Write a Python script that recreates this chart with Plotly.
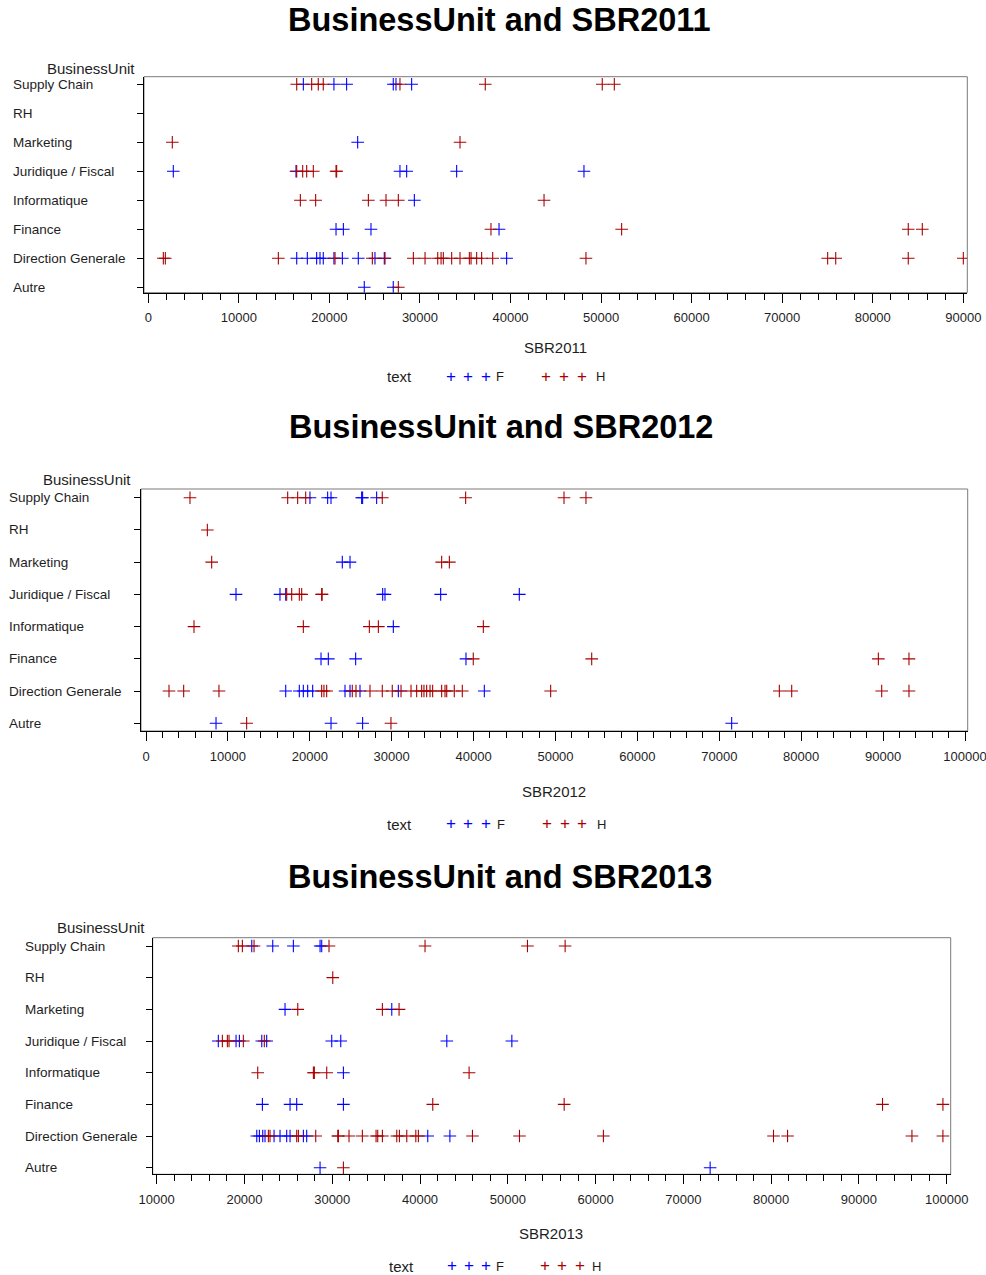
import plotly.graph_objects as go

# Business units, bottom to top on the y axis
UNITS = ["Autre", "Direction Generale", "Finance", "Informatique",
         "Juridique / Fiscal", "Marketing", "RH", "Supply Chain"]

# SBR2011 salaries by unit, F and H
F_2011 = {
    "Supply Chain": [17120, 20500, 21900, 27050, 27350, 29080],
    "RH": [],
    "Marketing": [23120],
    "Juridique / Fiscal": [2760, 16310, 27790, 28530, 34050, 48110],
    "Informatique": [29380],
    "Finance": [20730, 21540, 24590, 38730],
    "Direction Generale": [16390, 17560, 18590, 18960, 19320, 20500, 21430,
                           23190, 25030, 26060, 39570],
    "Autre": [23850, 27050],
}
H_2011 = {
    "Supply Chain": [16390, 18040, 18770, 19320, 27790, 37210, 50130, 51460],
    "RH": [],
    "Marketing": [2650, 34420],
    "Juridique / Fiscal": [16390, 17050, 17490, 18220, 20730, 20800],
    "Informatique": [16790, 18480, 24300, 26250, 27610, 43700],
    "Finance": [37840, 52270, 83920, 85470],
    "Direction Generale": [1660, 1880, 14360, 20620, 24740, 26140, 29270,
                           30560, 31960, 32330, 32580, 33500, 34420, 35450,
                           35640, 36260, 36810, 38030, 48330, 75020, 75910,
                           83920, 90000],
    "Autre": [27610],
}

# SBR2012 salaries by unit, F and H
F_2012 = {
    "Supply Chain": [20020, 22180, 22590, 26330, 26450, 28160],
    "RH": [],
    "Marketing": [23970, 24910],
    "Juridique / Fiscal": [10990, 16360, 17060, 28900, 29180, 35980, 45580],
    "Informatique": [30200],
    "Finance": [21370, 22260, 25600, 39070],
    "Direction Generale": [17060, 18720, 19210, 19740, 20350, 24300, 24910,
                           26130, 30810, 41310],
    "Autre": [8550, 22590, 26450, 71510],
}
H_2012 = {
    "Supply Chain": [5370, 17300, 18520, 19500, 28850, 39030, 51040, 53720],
    "RH": [7490],
    "Marketing": [8020, 36100, 37040],
    "Juridique / Fiscal": [17180, 17790, 18720, 19010, 21450, 21500],
    "Informatique": [5860, 19210, 27270, 28370, 41190],
    "Finance": [39960, 54420, 89420, 93160],
    "Direction Generale": [2810, 4600, 8910, 21450, 21730, 22060, 25190,
                           25640, 27350, 28850, 30070, 31140, 32360, 33050,
                           33660, 33940, 34270, 34680, 35000, 36100, 36510,
                           36720, 37640, 38620, 49410, 77330, 78840, 89830,
                           93160],
    "Autre": [12290, 29910],
}

# SBR2013 salaries by unit, F and H
F_2013 = {
    "Supply Chain": [20830, 23220, 25570, 28610, 28800],
    "RH": [],
    "Marketing": [24620, 36780],
    "Juridique / Fiscal": [17020, 19040, 19420, 21970, 22530, 29940, 30970,
                           43050, 50460],
    "Informatique": [31270],
    "Finance": [22040, 25190, 25950, 31270],
    "Direction Generale": [21400, 21700, 22080, 22340, 23370, 24050, 24810,
                           25190, 26710, 27090, 40880, 43400],
    "Autre": [28610, 73050],
}
H_2013 = {
    "Supply Chain": [19300, 19760, 21090, 29630, 40570, 52240, 56530],
    "RH": [30060],
    "Marketing": [26070, 35710, 37610],
    "Juridique / Fiscal": [17480, 18050, 18240, 19870, 22260],
    "Informatique": [21510, 27850, 27960, 29370, 45590],
    "Finance": [41450, 56420, 92690, 99570],
    "Direction Generale": [22720, 22910, 25950, 26140, 28120, 30630, 30700,
                           31910, 33430, 34990, 35180, 35710, 37350, 37650,
                           38490, 39520, 39810, 45970, 51330, 60890, 80270,
                           81870, 96040, 99570],
    "Autre": [31270],
}

W, H = 986, 1275
BLUE = "#0000FF"
RED = "#A80000"
TXT = "#1e1e1e"
FONT = "Liberation Sans, Arial, sans-serif"


def fx(p):
    return p / W


def fy(p):
    return 1 - p / H


# Page layout of each panel (pixel positions)
panels = [
    dict(year="2011", f=F_2011, h=H_2011, box=(144, 967.3, 76.7, 292.7),
         xr=[-475, 90440], yr=[-0.186, 7.262], title=(499, 20),
         bu=(90.5, 68), lab_x=11, xt=(555, 347),
         leg=(377, 399, [451, 468, 486], 500, [546, 564, 582], 600)),
    dict(year="2012", f=F_2012, h=H_2012, box=(141, 967.7, 489, 731),
         xr=[-610, 100330], yr=[-0.239, 7.27], title=(500.5, 427),
         bu=(87, 479), lab_x=7, xt=(554, 791),
         leg=(824, 399, [451, 468, 486], 501, [547, 565, 582], 601)),
    dict(year="2013", f=F_2013, h=H_2013, box=(152.7, 950.7, 937.7, 1174.3),
         xr=[9544, 100456], yr=[-0.208, 7.262], title=(499.5, 877),
         bu=(101, 928), lab_x=23, xt=(551, 1233),
         leg=(1266, 401, [452, 469, 486], 500, [545, 562, 580], 596)),
]

fig = go.Figure()
annotations = []
shapes = []

for i, p in enumerate(panels):
    n = "" if i == 0 else str(i + 1)
    xa, ya = "x" + n, "y" + n
    for data, color, name in ((p["f"], BLUE, "F"), (p["h"], RED, "H")):
        xs, ys = [], []
        for unit in UNITS:
            for v in data[unit]:
                xs.append(v)
                ys.append(unit)
        fig.add_trace(go.Scatter(
            x=xs, y=ys, mode="markers", name=name, showlegend=False,
            xaxis=xa, yaxis=ya,
            marker=dict(symbol="cross-thin-open", size=9, color=color,
                        line=dict(width=1.1, color=color)),
        ))

    x0, x1, y0, y1 = p["box"]
    fig.update_layout(**{
        "xaxis" + n: dict(
            domain=[fx(x0), fx(x1)], range=p["xr"], anchor=ya,
            automargin=False, ticklabeloverflow="allow",
            tickmode="linear", tick0=0, dtick=10000, tickformat="d",
            ticks="outside", ticklen=9, tickcolor="black", tickwidth=1,
            showline=True, linecolor="black", linewidth=1,
            showgrid=False, zeroline=False, ticklabelstandoff=4,
            tickfont=dict(size=13, color=TXT, family=FONT),
            minor=dict(ticks="outside", dtick=2000, ticklen=6,
                       tickcolor="black", showgrid=False),
        ),
        "yaxis" + n: dict(
            domain=[fy(y1), fy(y0)], anchor=xa, type="category",
            automargin=False,
            categoryorder="array", categoryarray=UNITS, range=p["yr"],
            showticklabels=False, ticks="outside", ticklen=6,
            tickcolor="black", showline=True, linecolor="black",
            linewidth=1, showgrid=False, zeroline=False,
        ),
    })
    shapes.append(dict(type="rect", xref=xa + " domain", yref=ya + " domain",
                       x0=0, x1=1, y0=0, y1=1, layer="below",
                       line=dict(color="#7a7a7a", width=1)))

    # panel title
    annotations.append(dict(
        text="BusinessUnit and SBR" + p["year"], xref="paper", yref="paper",
        x=fx(p["title"][0]), y=fy(p["title"][1]), xanchor="center",
        yanchor="middle", showarrow=False,
        font=dict(size=32.5, color="black", family=FONT, weight="bold")))
    # y axis title
    annotations.append(dict(
        text="BusinessUnit", xref="paper", yref="paper",
        x=fx(p["bu"][0]), y=fy(p["bu"][1]), xanchor="center",
        yanchor="middle", showarrow=False,
        font=dict(size=15, color=TXT, family=FONT)))
    # left-aligned category labels
    for unit in UNITS:
        annotations.append(dict(
            text=unit, xref="paper", yref=ya, x=fx(p["lab_x"]), y=unit,
            xanchor="left", yanchor="middle", showarrow=False,
            font=dict(size=13.5, color=TXT, family=FONT)))
    # x axis title
    annotations.append(dict(
        text="SBR" + p["year"], xref="paper", yref="paper",
        x=fx(p["xt"][0]), y=fy(p["xt"][1]), xanchor="center",
        yanchor="middle", showarrow=False,
        font=dict(size=15, color=TXT, family=FONT)))
    # legend row
    ly, tx, fxs, flx, hxs, hlx = p["leg"]
    annotations.append(dict(
        text="text", xref="paper", yref="paper", x=fx(tx), y=fy(ly),
        xanchor="center", yanchor="middle", showarrow=False,
        font=dict(size=15, color=TXT, family=FONT)))
    for cx in fxs:
        annotations.append(dict(
            text="+", xref="paper", yref="paper", x=fx(cx), y=fy(ly - 1),
            xanchor="center", yanchor="middle", showarrow=False,
            font=dict(size=17, color=BLUE, family=FONT)))
    for cx in hxs:
        annotations.append(dict(
            text="+", xref="paper", yref="paper", x=fx(cx), y=fy(ly - 1),
            xanchor="center", yanchor="middle", showarrow=False,
            font=dict(size=17, color=RED, family=FONT)))
    for lbl, cx in (("F", flx), ("H", hlx)):
        annotations.append(dict(
            text=lbl, xref="paper", yref="paper", x=fx(cx), y=fy(ly),
            xanchor="center", yanchor="middle", showarrow=False,
            font=dict(size=13, color=TXT, family=FONT)))

fig.update_layout(
    width=W, height=H, margin=dict(l=0, r=0, t=0, b=0),
    paper_bgcolor="white", plot_bgcolor="white",
    font=dict(family=FONT, color=TXT),
    annotations=annotations, shapes=shapes, showlegend=False,
)

fig.write_html("out.html")
